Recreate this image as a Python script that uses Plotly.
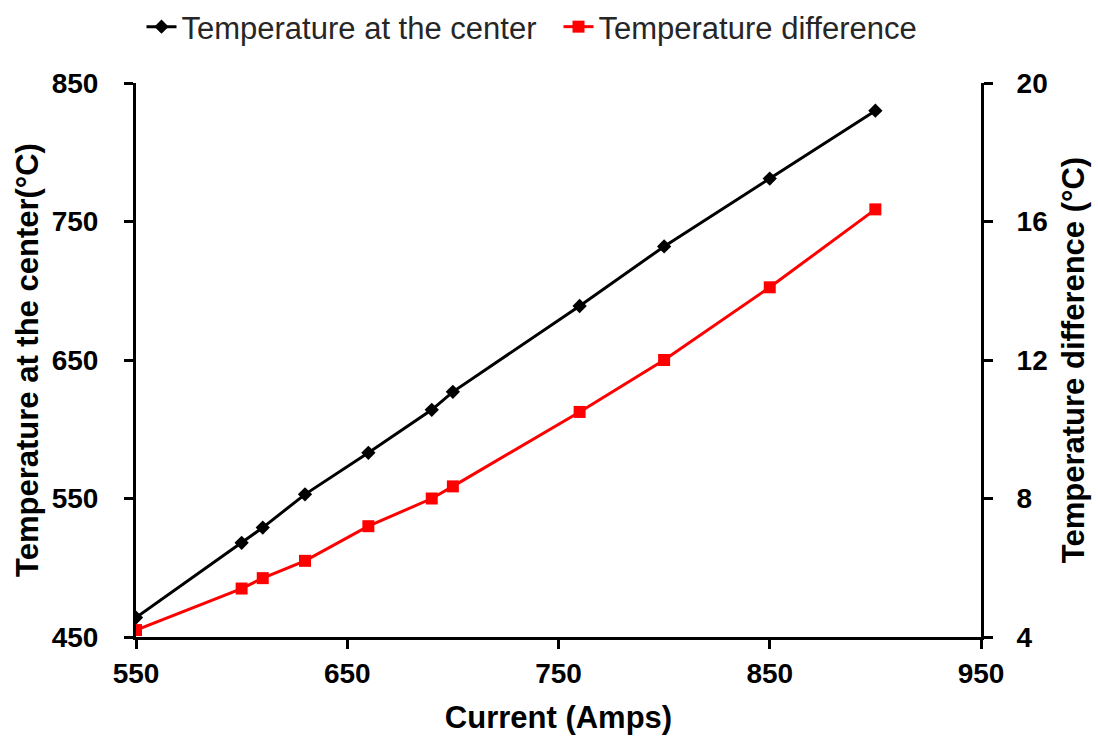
import plotly.graph_objects as go

current = [550, 600, 610, 630, 660, 690, 700, 760, 800, 850, 900]
temp_center = [464, 518, 529, 553, 583, 614, 627, 689, 732, 781, 830]
temp_diff = [4.2, 5.4, 5.7, 6.2, 7.2, 8.0, 8.35, 10.5, 12.0, 14.1, 16.35]

FONT = "Liberation Sans, Arial, sans-serif"

fig = go.Figure()
fig.add_trace(go.Scatter(
    x=current, y=temp_center, name="Temperature at the center",
    mode="lines+markers",
    line=dict(color="black", width=3),
    marker=dict(symbol="diamond", size=11, color="black"),
))
fig.add_trace(go.Scatter(
    x=current, y=temp_diff, name="Temperature difference",
    mode="lines+markers", yaxis="y2",
    line=dict(color="#ff0000", width=3),
    marker=dict(symbol="square", size=12, color="#ff0000"),
))

axis_common = dict(
    showgrid=False, zeroline=False, showline=True, linecolor="black", linewidth=3,
    ticks="outside", ticklen=9, tickwidth=3, tickcolor="black",
    tickfont=dict(family=FONT, size=28, color="black", weight="bold"),
    mirror=False,
)
title_font = dict(family=FONT, size=31, weight="bold", color="black")

fig.update_layout(
    width=1098, height=740,
    paper_bgcolor="white", plot_bgcolor="white",
    margin=dict(l=136, r=117, t=83, b=103),
    font=dict(family=FONT, color="black"),
    xaxis=dict(range=[550, 950], tickvals=[550, 650, 750, 850, 950],
               ticklabelstandoff=0,
               title=dict(text="Current (Amps)", font=title_font, standoff=19),
               **axis_common),
    yaxis=dict(range=[450, 850], tickvals=[450, 550, 650, 750, 850],
               ticklabelstandoff=20,
               title=dict(text="Temperature at the center(°C)", font=title_font, standoff=4),
               **axis_common),
    yaxis2=dict(range=[4, 20], tickvals=[4, 8, 12, 16, 20], overlaying="y", side="right",
                ticklabelstandoff=18,
                title=dict(text="Temperature difference (°C)", font=title_font, standoff=16),
                **axis_common),
    legend=dict(orientation="h", x=0.5, xanchor="center", y=1.0, yanchor="top",
                yref="container",
                font=dict(family=FONT, size=31, color="#262626"),
                entrywidth=372, bgcolor="rgba(0,0,0,0)"),
)

fig.write_html("out.html")
